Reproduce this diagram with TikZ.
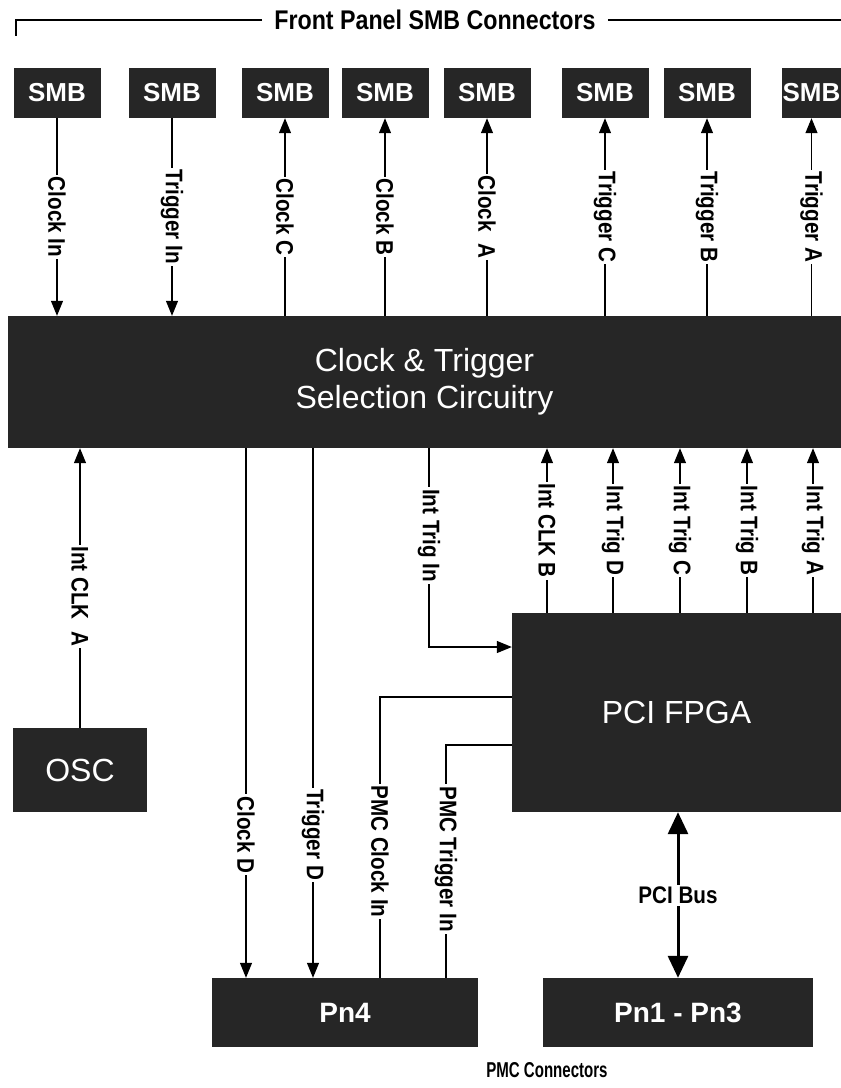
\documentclass[tikz,border=0pt]{standalone}
\usepackage{fontspec}
\setmainfont{Liberation Sans}
\newfontfamily\lblfont[FakeStretch=0.86]{Liberation Sans}
\newfontfamily\capfont[FakeStretch=0.7]{Liberation Sans}
\usetikzlibrary{arrows.meta}

\begin{document}
\begin{tikzpicture}[x=1pt, y=-1pt, >={Triangle[length=15pt,width=12pt]},
  box/.style={fill=black!85, text=white, inner sep=0pt},
  smb/.style={box, minimum width=87pt, minimum height=50pt, font=\bfseries\fontsize{26}{26}\selectfont},
  pmc/.style={box, minimum width=#1, minimum height=69pt, font=\bfseries\fontsize{28}{28}\selectfont},
  wire/.style={line width=1.2pt},
  bus/.style={line width=3pt, {Triangle[length=22pt,width=20pt]}-{Triangle[length=22pt,width=20pt]}},
  lbl/.style={fill=white, inner sep=2pt, font=\lblfont\bfseries\fontsize{24}{24}\selectfont},
  vlbl/.style={lbl, rotate=-90}]
  \useasboundingbox (0,0) rectangle (841,1088);

  \node[lbl, font=\lblfont\bfseries\fontsize{27}{27}\selectfont] (fp) at (435,20) {Front Panel SMB Connectors};
  \coordinate (brl) at (16,36);
  \coordinate (brr) at (841,20);
  \draw[wire] ([xshift=-10pt]fp.west) -| (brl);
  \draw[wire] ([xshift=10pt]fp.east) -- (brr);

  \node[smb] (smb1) at (57,93) {SMB};
  \node[smb] (smb2) at (172,93) {SMB};
  \node[smb] (smb3) at (285,93) {SMB};
  \node[smb] (smb4) at (385,93) {SMB};
  \node[smb] (smb5) at (487,93) {SMB};
  \node[smb] (smb6) at (605,93) {SMB};
  \node[smb] (smb7) at (707,93) {SMB};
  \node[smb, minimum width=59pt] (smb8) at (811.5,93) {SMB};

  \node[box, minimum width=833pt, minimum height=132pt, align=center,
    font=\fontsize{32}{37}\selectfont] (sel) at (424.5,382) {Clock \& Trigger\\Selection Circuitry};

  \draw[wire,->] (smb1) -- (smb1 |- sel.north) node[vlbl, midway] {Clock In};
  \draw[wire,->] (smb2) -- (smb2 |- sel.north) node[vlbl, midway] {Trigger In};
  \draw[wire,->] (smb3 |- sel.north) -- (smb3) node[vlbl, midway] {Clock C};
  \draw[wire,->] (smb4 |- sel.north) -- (smb4) node[vlbl, midway] {Clock B};
  \draw[wire,->] (smb5 |- sel.north) -- (smb5) node[vlbl, midway] {Clock\ \ A};
  \draw[wire,->] (smb6 |- sel.north) -- (smb6) node[vlbl, midway] {Trigger C};
  \draw[wire,->] (smb7 |- sel.north) -- (smb7) node[vlbl, midway] {Trigger B};
  \draw[wire,->] (smb8 |- sel.north) -- (smb8) node[vlbl, midway] {Trigger A};

  \node[box, minimum width=134pt, minimum height=84pt, font=\fontsize{32}{32}\selectfont] (osc) at (80,770) {OSC};
  \node[box, minimum width=329pt, minimum height=199pt, font=\fontsize{32}{32}\selectfont] (fpga) at (676.5,712.5) {PCI FPGA};
  \node[pmc=266pt] (pnfour) at (345,1012.5) {Pn4};
  \node[pmc=270pt] (pnbus) at (678,1012.5) {Pn1 - Pn3};
  \node[lbl, font=\capfont\bfseries\fontsize{21.5}{21.5}\selectfont] (pmc) at (547,1070) {PMC Connectors};

  \coordinate (clkd) at (246,0);
  \coordinate (trgd) at (313,0);
  \coordinate (trgin) at (429,647);
  \coordinate (pmcclk) at (380,697);
  \coordinate (pmctrg) at (446,745);
  \coordinate (iclkb) at (547,0);
  \coordinate (itrgd) at (613,0);
  \coordinate (itrgc) at (680,0);
  \coordinate (itrgb) at (747,0);
  \coordinate (itrga) at (813,0);

  \draw[wire,->] (osc) -- (osc |- sel.south) node[vlbl, pos=0.47] {Int CLK\ \ A};
  \draw[wire,->] (clkd |- sel.south) -- (clkd |- pnfour.north) node[vlbl, pos=0.73] {Clock D};
  \draw[wire,->] (trgd |- sel.south) -- (trgd |- pnfour.north) node[vlbl, pos=0.73] {Trigger D};
  \draw[wire,->] (trgin |- sel.south) -- node[vlbl, pos=0.44] {Int Trig In} (trgin) -- (trgin -| fpga.west);
  \draw[wire] (pmcclk -| fpga.west) -- (pmcclk) -- (pmcclk |- pnfour.north) node[vlbl, pos=0.55] {PMC Clock In};
  \draw[wire] (pmctrg -| fpga.west) -- (pmctrg) -- (pmctrg |- pnfour.north) node[vlbl, pos=0.49] {PMC Trigger In};

  \draw[wire,->] (iclkb |- fpga.north) -- (iclkb |- sel.south) node[vlbl, midway] {Int CLK B};
  \draw[wire,->] (itrgd |- fpga.north) -- (itrgd |- sel.south) node[vlbl, midway] {Int Trig D};
  \draw[wire,->] (itrgc |- fpga.north) -- (itrgc |- sel.south) node[vlbl, midway] {Int Trig C};
  \draw[wire,->] (itrgb |- fpga.north) -- (itrgb |- sel.south) node[vlbl, midway] {Int Trig B};
  \draw[wire,->] (itrga |- fpga.north) -- (itrga |- sel.south) node[vlbl, midway] {Int Trig A};

  \draw[bus] (fpga.south -| pnbus) -- (pnbus) node[lbl, midway] {PCI Bus};
\end{tikzpicture}
\end{document}
